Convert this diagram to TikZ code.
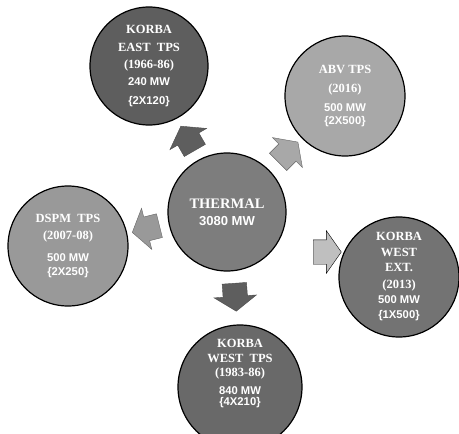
\documentclass[tikz,border=0pt]{standalone}
\usepackage{fontspec}
\setmainfont{Liberation Serif}
\newfontfamily\mwfont[Scale=0.9]{Liberation Sans}
\usetikzlibrary{shapes.arrows}

\definecolor{gEast}{gray}{0.37}
\definecolor{gThermal}{gray}{0.49}
\definecolor{gAbv}{gray}{0.66}
\definecolor{gDspm}{gray}{0.60}
\definecolor{gExt}{gray}{0.45}
\definecolor{gWest}{gray}{0.41}
\definecolor{gRight}{gray}{0.75}

\newcommand\mwtxt[1]{{\mwfont #1}}

\begin{document}
\begin{tikzpicture}[
x = 1pt, y = -1pt,
station/.style = {circle, draw=black, line width=1.2pt,
                  minimum size=120pt, inner sep=0pt,
                  text=white, align=center,
                  font=\bfseries\fontsize{12.5}{17}\selectfont},
 blkarr/.style = {single arrow, draw=black!60, thin,
                  minimum height=28pt, minimum width=42pt,
                  inner xsep=0pt, inner ysep=12pt,
                  single arrow head extend=9pt,
                  single arrow tip angle=110},
                    ]
\useasboundingbox (0,0) rectangle (459,434);
\clip (0,0) rectangle (459,434);
% centre
\node[station, fill=gThermal, minimum size=118pt,
      font=\bfseries\fontsize{14.5}{17}\selectfont] (thermal) at (227,212)
      {THERMAL\\\mwtxt{3080 MW}};
% stations
\node[station, fill=gEast, minimum size=118pt] (east) at (149,66)
      {KORBA\\[1pt]EAST~~TPS\\(1966-86)\\\mwtxt{240 MW}\\[2pt]\mwtxt{\{2X120\}}};
\node[station, fill=gAbv] (abv) at (345,96)
      {ABV TPS\\[2pt](2016)\\[2pt]\mwtxt{500 MW}\\[-4pt]\mwtxt{\{2X500\}}};
\node[station, fill=gDspm] (dspm) at (68,246)
      {DSPM~~TPS\\(2007-08)\\[5pt]\mwtxt{500 MW}\\[-3pt]\mwtxt{\{2X250\}}};
\node[station, fill=gExt] (ext) at (399,277)
      {KORBA\\[-1pt]WEST\\[-2pt]EXT.\\(2013)\\[-2pt]\mwtxt{500 MW}\\[-2pt]\mwtxt{\{1X500\}}};
\node[station, fill=gWest, minimum size=124pt, text depth=30pt] (west) at (240,387)
      {KORBA\\[-2pt]WEST~~TPS\\[-3pt](1983-86)\\[1pt]\mwtxt{840 MW}\\[-6pt]\mwtxt{\{4X210\}}};
% block arrows
\foreach \n/\x/\y/\a/\c/\k in {toEast/190/142/120/gEast/black!70,
                               toAbv/285/155/45/gAbv/black!60,
                               toDspm/150/228/194/gDspm/black!60,
                               toExt/323/252/0/gRight/black,
                               toWest/235/293/-86/gEast/black!70}
    \node[blkarr, fill=\c, draw=\k, rotate=\a] (\n) at (\x,\y) {};
\end{tikzpicture}
\end{document}
